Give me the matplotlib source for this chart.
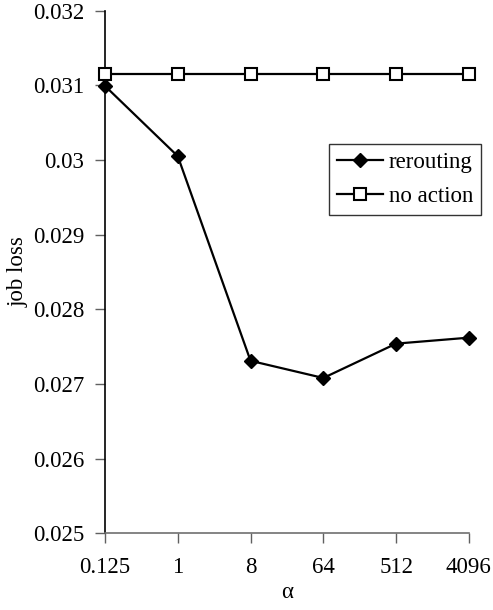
import matplotlib.pyplot as plt

plt.rcParams['font.family'] = ['Liberation Serif', 'DejaVu Serif']

alpha_labels = ['0.125', '1', '8', '64', '512', '4096']
rerouting = [0.03099, 0.03005, 0.02731, 0.02708, 0.02754, 0.02762]
no_action = [0.03115, 0.03115, 0.03115, 0.03115, 0.03115, 0.03115]

fig = plt.figure(figsize=(4.93, 6.10), dpi=100)
ax = fig.add_axes([0.213, 0.1257, 0.738, 0.857])

x = range(len(alpha_labels))
ax.plot(x, rerouting, color='black', lw=1.6, marker='D', markersize=6.8,
        markerfacecolor='black', markeredgecolor='black', label='rerouting',
        clip_on=False, zorder=3)
ax.plot(x, no_action, color='black', lw=1.6, marker='s', markersize=8,
        markerfacecolor='white', markeredgecolor='black', markeredgewidth=1.5,
        label='no action', clip_on=False, zorder=4)

ax.set_xlim(0, len(alpha_labels) - 1)
ax.set_ylim(0.025, 0.032)
ax.set_xticks(list(x))
ax.set_xticklabels(alpha_labels)
ax.set_yticks([0.025, 0.026, 0.027, 0.028, 0.029, 0.03, 0.031, 0.032])
ax.set_yticklabels(['0.025', '0.026', '0.027', '0.028', '0.029', '0.03', '0.031', '0.032'])

ax.spines['top'].set_visible(False)
ax.spines['right'].set_visible(False)
ax.spines['left'].set_color('black')
ax.spines['left'].set_linewidth(1.2)
ax.spines['bottom'].set_color('#707070')
ax.spines['bottom'].set_linewidth(1.2)
ax.tick_params(axis='both', direction='out', length=7, width=1.0,
               color='#606060', labelsize=16.5)
ax.tick_params(axis='x', pad=10)
ax.tick_params(axis='y', pad=8)

ax.set_xlabel('α', fontsize=16.5, labelpad=3)
ax.set_ylabel('job loss', fontsize=16.5, labelpad=3)

leg = ax.legend(loc='upper right', bbox_to_anchor=(0.976, 0.764),
                bbox_transform=fig.transFigure, fontsize=16.5, frameon=True,
                fancybox=False, edgecolor='black', handlelength=2.0,
                handletextpad=0.25, borderpad=0.35, labelspacing=0.55,
                borderaxespad=0)
leg.get_frame().set_linewidth(1.0)

fig.savefig('out.png', dpi=100)
